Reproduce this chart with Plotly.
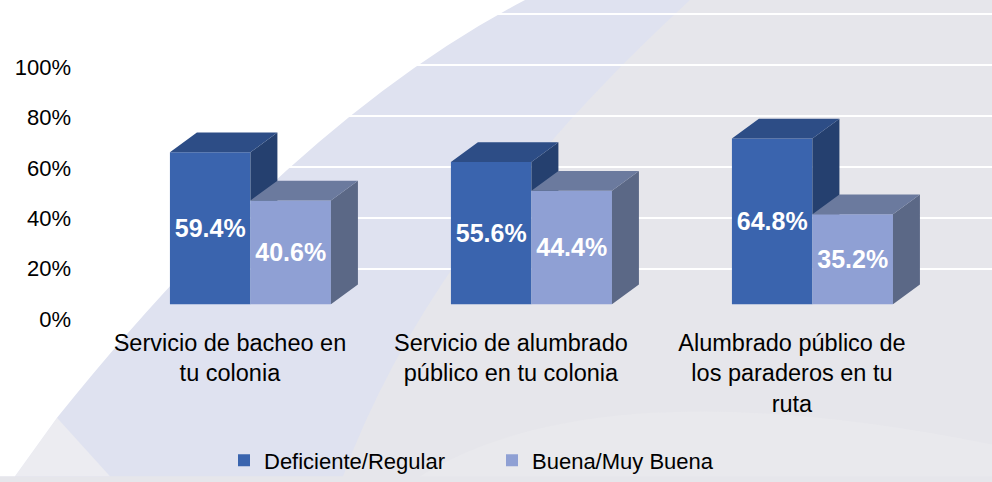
import plotly.graph_objects as go

# ---------------- data ----------------
categories = [
    "Servicio de bacheo en tu colonia",
    "Servicio de alumbrado público en tu colonia",
    "Alumbrado público de los paraderos en tu ruta",
]
category_ticktext = [
    "Servicio de bacheo en<br>tu colonia",
    "Servicio de alumbrado<br>público en tu colonia",
    "Alumbrado público de<br>los paraderos en tu<br>ruta",
]
deficiente_regular = [59.4, 55.6, 64.8]
buena_muy_buena = [40.6, 44.4, 35.2]
series_names = ["Deficiente/Regular", "Buena/Muy Buena"]
y_ticks = [0, 20, 40, 60, 80, 100]

# ---------------- style ----------------
FONT = "Liberation Sans, Arial, sans-serif"
FRONT = ["#3a64ae", "#8fa0d4"]
TOP = ["#2d4d86", "#6b7a9e"]
SIDE = ["#25406f", "#5b6886"]
BG_GREY = "#e6e6eb"
BG_BLUE = "#dfe2f0"

BAR_W = 0.2865      # width of each bar front face (category units)
SHIFT = 0.073       # front faces shifted right of the category tick
DEPTH_X = 0.096     # 3D depth, x units
DEPTH_Y = 7.7       # 3D depth, value units

# plot-area geometry (pixels) used only for decorative background shapes
L, R, T, B = 72, 0, 0, 152
W, H = 992, 482
PW, PH = W - L - R, H - T - B


def P(x, y):
    """pixel -> paper coordinate string"""
    return f"{(x - L) / PW:.4f},{(H - B - y) / PH:.4f}"


positions = list(range(len(categories)))
series = [deficiente_regular, buena_muy_buena]

fig = go.Figure()

# front faces (real bars)
for s, vals in enumerate(series):
    fig.add_trace(go.Bar(
        x=positions, y=vals, width=BAR_W,
        offset=SHIFT - BAR_W + s * BAR_W,
        name=series_names[s],
        marker=dict(color=FRONT[s], line=dict(width=0)),
        text=[f"<b>{v:.1f}%</b>" for v in vals],
        textposition="inside", insidetextanchor="middle",
        textangle=0, constraintext="none",
        textfont=dict(family=FONT, size=25, color="white"),
        hoverinfo="skip",
    ))

# 3D side and top faces
for s, vals in enumerate(series):
    side_x, side_y, top_x, top_y = [], [], [], []
    for i, v in zip(positions, vals):
        x0 = i + SHIFT - BAR_W + s * BAR_W
        x1 = x0 + BAR_W
        bottom = 0
        if s + 1 < len(series):
            bottom = min(series[s + 1][i], v)
        side_x += [x1, x1, x1 + DEPTH_X, x1 + DEPTH_X, x1, None]
        side_y += [bottom, v, v + DEPTH_Y, bottom + (DEPTH_Y if bottom == 0 else 0), bottom, None]
        top_x += [x0, x0 + DEPTH_X, x1 + DEPTH_X, x1, x0, None]
        top_y += [v, v + DEPTH_Y, v + DEPTH_Y, v, v, None]
    fig.add_trace(go.Scatter(x=side_x, y=side_y, fill="toself", mode="lines",
                             line=dict(width=0), fillcolor=SIDE[s],
                             showlegend=False, hoverinfo="skip"))
    fig.add_trace(go.Scatter(x=top_x, y=top_y, fill="toself", mode="lines",
                             line=dict(width=0), fillcolor=TOP[s],
                             showlegend=False, hoverinfo="skip"))

# empty traces so the label axis (y2) and back-wall grid axis (y3) are drawn
fig.add_trace(go.Scatter(x=[None], y=[None], yaxis="y2", mode="lines",
                         showlegend=False, hoverinfo="skip"))
fig.add_trace(go.Scatter(x=[None], y=[None], yaxis="y3", mode="lines",
                         showlegend=False, hoverinfo="skip"))

# decorative background
shapes = [
    dict(type="path", xref="paper", yref="paper", layer="below", line=dict(width=0),
         fillcolor="#e9e9ed",
         path=f"M{P(420,482)} Q{P(600,370)} {P(992,450)} L{P(992,482)} Z"),
    dict(type="path", xref="paper", yref="paper", layer="below", line=dict(width=0),
         fillcolor=BG_BLUE,
         path=f"M{P(690,0)} Q{P(431,241)} {P(343,482)} L{P(0,482)} L{P(0,0)} Z"),
    dict(type="path", xref="paper", yref="paper", layer="below", line=dict(width=0),
         fillcolor="#ececf1",
         path=f"M{P(57,423)} L{P(110,482)} L{P(15,482)} Z"),
    dict(type="path", xref="paper", yref="paper", layer="below", line=dict(width=0),
         fillcolor="#ffffff",
         path=f"M{P(525,0)} Q{P(295,122)} {P(57,423)} L{P(15,482)} L{P(0,482)} L{P(0,0)} Z"),
]

fig.update_layout(
    width=W, height=H,
    margin=dict(l=L, r=R, t=T, b=B, pad=0),
    paper_bgcolor=BG_GREY, plot_bgcolor="rgba(0,0,0,0)",
    barmode="overlay",
    font=dict(family=FONT, color="#000000"),
    shapes=shapes,
    showlegend=True,
    legend=dict(orientation="h", x=(224 - L) / PW, xanchor="left",
                y=(H - B - 466) / PH, yanchor="middle",
                entrywidth=223, entrywidthmode="pixels",
                font=dict(family=FONT, size=22, color="#000000"),
                bgcolor="rgba(0,0,0,0)", traceorder="normal"),
    xaxis=dict(range=[-0.562, 2.712], tickvals=positions, ticktext=category_ticktext,
               showgrid=False, zeroline=False, showline=False, ticks="",
               tickfont=dict(family=FONT, size=23.5, color="#000000")),
    yaxis=dict(range=[-8.494, 118.92], showticklabels=False, showgrid=False,
               zeroline=False, showline=False, ticks=""),
    yaxis2=dict(overlaying="y", side="left", range=[-2.745, 126.67],
                tickvals=y_ticks, ticktext=[f"{v}%" for v in y_ticks],
                showgrid=False, zeroline=False, showline=False, ticks="",
                tickfont=dict(family=FONT, size=22, color="#000000")),
    yaxis3=dict(overlaying="y", side="left", range=[-22.48, 105.43],
                tickvals=y_ticks, showticklabels=False, showgrid=True,
                gridcolor="#ffffff", gridwidth=2, zeroline=False, showline=False,
                ticks=""),
)

fig.write_html("out.html", config={"displayModeBar": False},
               post_script="document.body.style.margin='0';document.body.style.overflow='hidden';")
